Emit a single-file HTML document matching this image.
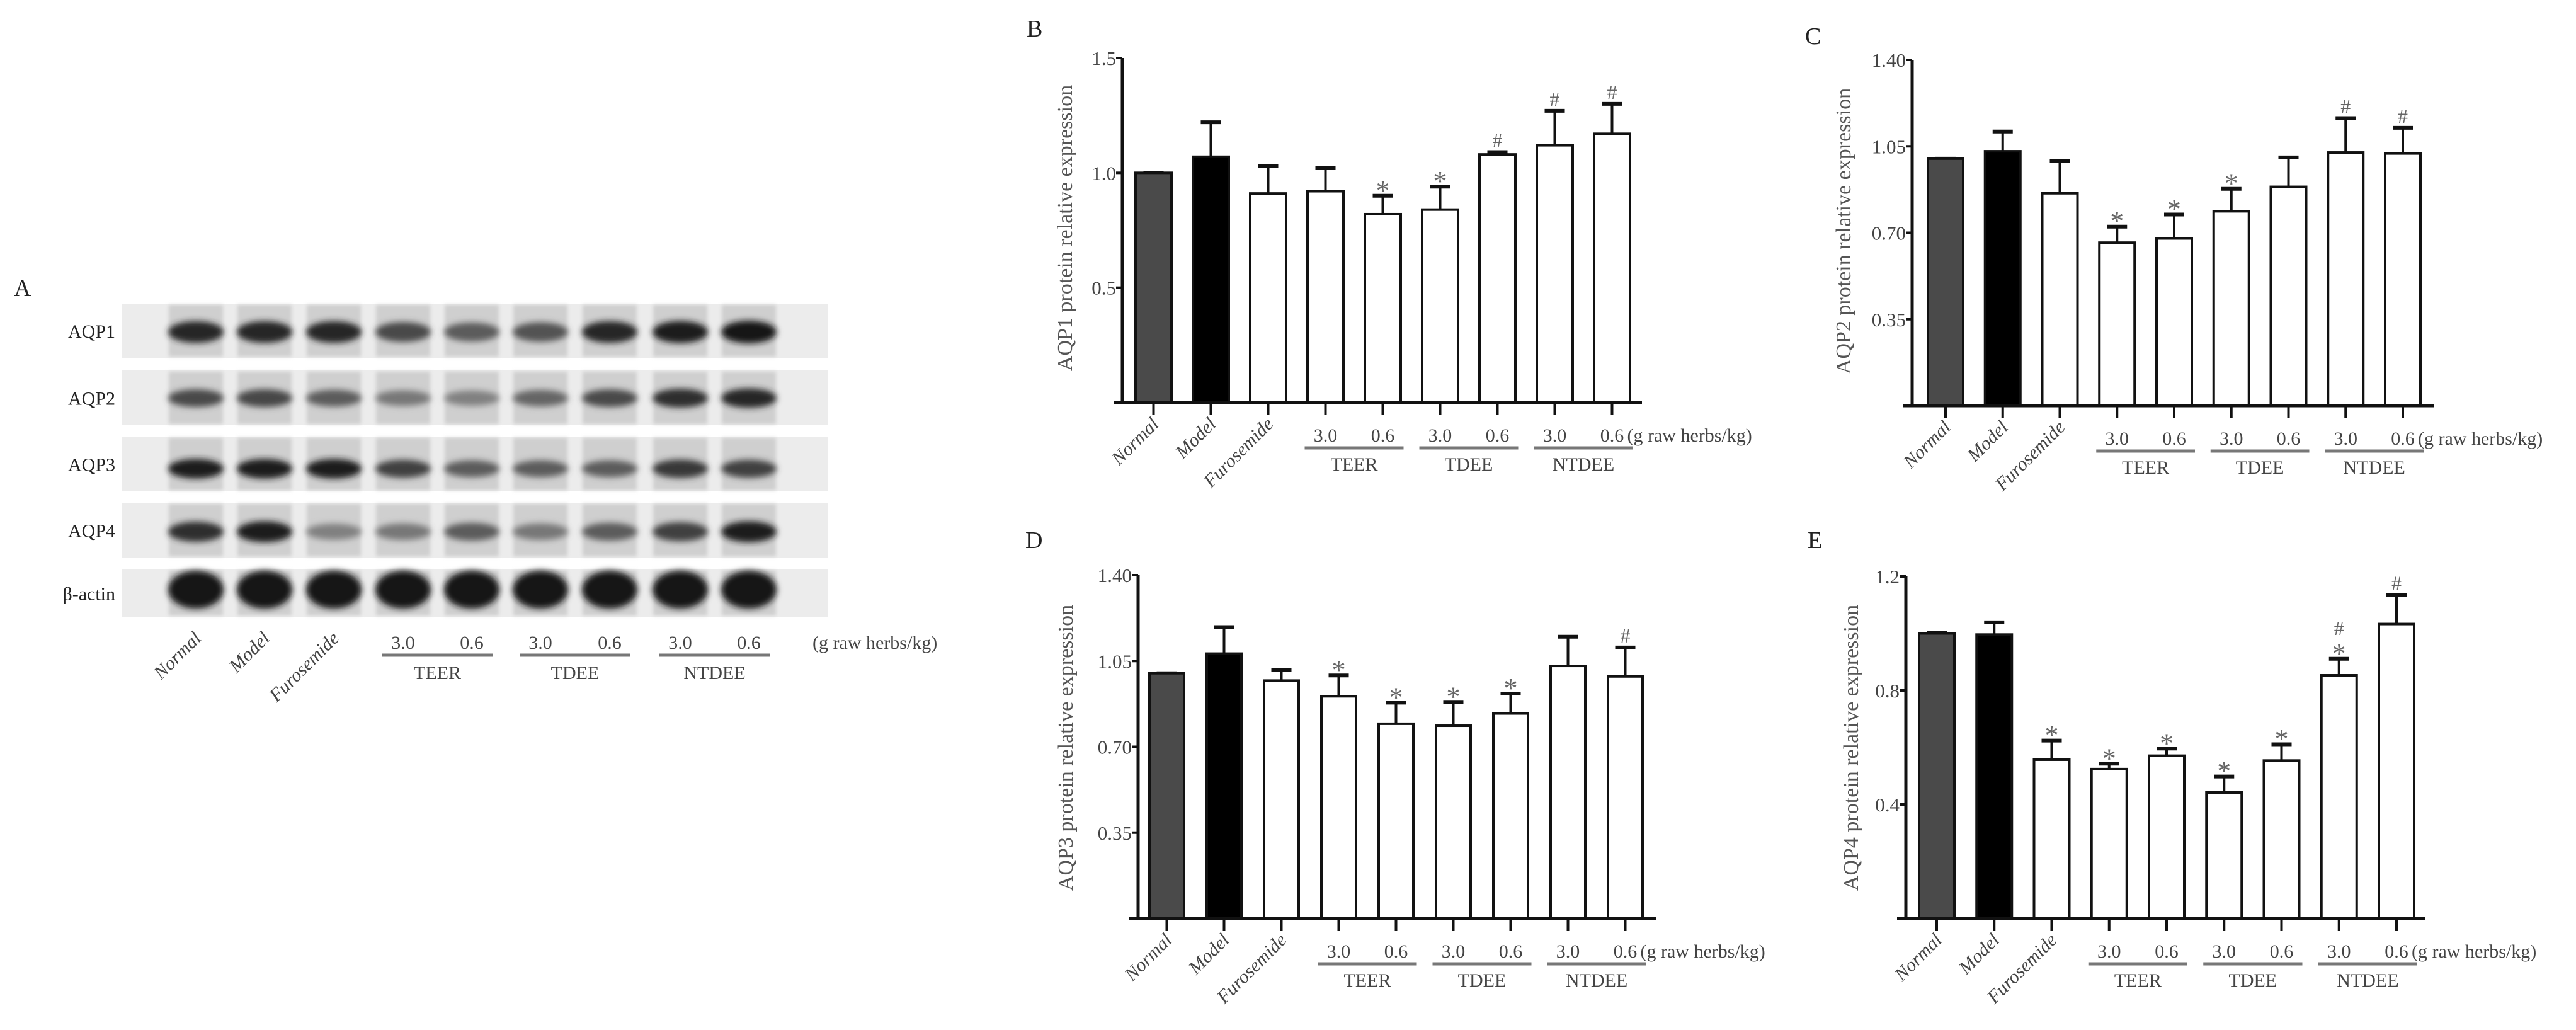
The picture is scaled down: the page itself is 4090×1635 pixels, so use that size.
<!DOCTYPE html>
<html><head><meta charset="utf-8"><style>
html,body{margin:0;padding:0;background:#fff;}
svg{display:block;font-family:"Liberation Serif",serif;}
</style></head><body>
<svg id="fig" width="4090" height="1635" viewBox="0 0 4090 1635">
<defs>
<filter id="blur4" x="-20%" y="-50%" width="140%" height="200%"><feGaussianBlur stdDeviation="5"/></filter>
<filter id="blur2" x="-20%" y="-50%" width="140%" height="200%"><feGaussianBlur stdDeviation="3"/></filter>
</defs>
<g id="blot"></g>
<g id="charts"></g>
</svg>
<script>
// ---- data ----
const categories = ["Normal","Model","Furosemide","3.0","0.6","3.0","0.6","3.0","0.6"];
const groupLabels = ["TEER","TDEE","NTDEE"];
const aqp1Values = [1.00,1.07,0.91,0.92,0.82,0.84,1.08,1.12,1.17];
const aqp1Errors = [1.00,1.22,1.03,1.02,0.90,0.94,1.09,1.27,1.30];
const aqp1Marks  = ["","","","","*","*","#","#","#"];
const aqp1Ticks  = [0.5,1.0,1.5];
const aqp1TickLabels = ["0.5","1.0","1.5"];
const aqp2Values = [1.00,1.03,0.86,0.66,0.677,0.787,0.886,1.025,1.021];
const aqp2Errors = [1.00,1.11,0.99,0.725,0.774,0.878,1.005,1.164,1.125];
const aqp2Marks  = ["","","","*","*","*","","#","#"];
const aqp2Ticks  = [0.35,0.70,1.05,1.40];
const aqp2TickLabels = ["0.35","0.70","1.05","1.40"];
const aqp3Values = [1.00,1.08,0.97,0.906,0.794,0.786,0.836,1.03,0.987];
const aqp3Errors = [1.00,1.188,1.014,0.991,0.880,0.883,0.917,1.149,1.105];
const aqp3Marks  = ["","","","*","*","*","*","","#"];
const aqp3Ticks  = [0.35,0.70,1.05,1.40];
const aqp3TickLabels = ["0.35","0.70","1.05","1.40"];
const aqp4Values = [1.00,0.996,0.557,0.524,0.571,0.442,0.554,0.853,1.033];
const aqp4Errors = [1.003,1.039,0.624,0.543,0.596,0.498,0.611,0.911,1.135];
const aqp4Marks  = ["","","*","*","*","*","*","#*","#"];
const aqp4Ticks  = [0.4,0.8,1.2];
const aqp4TickLabels = ["0.4","0.8","1.2"];
const bandIntensity = {
  AQP1:[0.9,0.9,0.9,0.7,0.6,0.65,0.9,0.95,1.0],
  AQP2:[0.7,0.72,0.6,0.45,0.4,0.55,0.7,0.85,0.9],
  AQP3:[0.95,0.95,0.95,0.75,0.6,0.6,0.6,0.8,0.75],
  AQP4:[0.85,0.95,0.4,0.45,0.6,0.45,0.6,0.75,0.95],
  "β-actin":[1,1,1,1,1,1,1,1,1]
};

const NS="http://www.w3.org/2000/svg";
function mk(parent,tag,attrs,text){
  const e=document.createElementNS(NS,tag);
  for(const k in attrs) e.setAttribute(k,attrs[k]);
  if(text!==undefined) e.textContent=text;
  parent.appendChild(e);return e;
}

// ---- blot (panel A) ----
(function(){
  const g=document.getElementById('blot');
  const a=mk(g,'text',{x:22,y:470,'font-size':38,fill:'#222'},'A');
  
  
  const rows=[["AQP1",482,568,527,18],["AQP2",588,675,632,16],["AQP3",693,780,744,16],["AQP4",798,885,844,17],["β-actin",904,979,936,30]];
  const lanes=[311,420,530,640,749,858,968,1080,1189];
  rows.forEach(r=>{
    const [name,y0,y1,by,bh]=r;
    const rg=mk(g,'g',{});
    
    
    mk(rg,'rect',{x:193,y:y0,width:1121,height:y1-y0,fill:'#ececec'});
    lanes.forEach((lx,i)=>{
      mk(rg,'rect',{x:lx-43,y:y0+2,width:86,height:y1-y0-4,fill:'#cfcfcf',filter:'url(#blur2)'});
      const v=bandIntensity[name][i];
      const c=Math.round(200-180*v);
      mk(rg,'ellipse',{cx:lx,cy:by,rx:44,ry:bh*(0.6+0.4*v),fill:`rgb(${c},${c},${c})`,filter:'url(#blur4)'});
    });
    const t=mk(rg,'text',{x:183,y:(y0+y1)/2+11,'font-size':30,'text-anchor':'end',fill:'#222'},name);
    
    
  });
  drawXLabels(g,lanes,979,{subY:1030,lineY:1040,grpY:1078,unitX:1290});
})();

function drawXLabels(g,xs,base,o){
  for(let i=0;i<3;i++){
    const t=mk(g,'text',{x:xs[i]+10,y:base+36,'font-size':30,'font-style':'italic','text-anchor':'end',fill:'#444',transform:`rotate(-45 ${xs[i]+10} ${base+36})`},categories[i]);
    
    
  }
  for(let k=0;k<3;k++){
    const xa=xs[3+2*k], xb=xs[4+2*k];
    const t1=mk(g,'text',{x:xa,y:o.subY,'font-size':30,'text-anchor':'middle',fill:'#444'},categories[3+2*k]);
    
    
    const t2=mk(g,'text',{x:xb,y:o.subY,'font-size':30,'text-anchor':'middle',fill:'#444'},categories[4+2*k]);
    
    
    const ln=mk(g,'line',{x1:xa-33,x2:xb+33,y1:o.lineY,y2:o.lineY,stroke:'#777','stroke-width':5});
    
    
    const gt=mk(g,'text',{x:(xa+xb)/2,y:o.grpY,'font-size':30,'text-anchor':'middle',fill:'#444'},groupLabels[k]);
    
    
  }
  const u=mk(g,'text',{x:o.unitX,y:o.subY,'font-size':30,fill:'#444'},'(g raw herbs/kg)');
  
  
}

// ---- bar charts ----
const panels=[
 {L:'B',name:'AQP1',vals:aqp1Values,errs:aqp1Errors,marks:aqp1Marks,ticks:aqp1Ticks,tl:aqp1TickLabels,ymax:1.5,ax:1782,top:92,base:639,x0:1801,step:91,bw:61,end:2607,lx:1630,ly:58,tx:1691,ty:362},
 {L:'C',name:'AQP2',vals:aqp2Values,errs:aqp2Errors,marks:aqp2Marks,ticks:aqp2Ticks,tl:aqp2TickLabels,ymax:1.4,ax:3036,top:95,base:644,x0:3059,step:90.75,bw:60,end:3864,lx:2866,ly:70,tx:2927,ty:367},
 {L:'D',name:'AQP3',vals:aqp3Values,errs:aqp3Errors,marks:aqp3Marks,ticks:aqp3Ticks,tl:aqp3TickLabels,ymax:1.4,ax:1807,top:913,base:1458,x0:1823,step:91,bw:59,end:2629,lx:1628,ly:870,tx:1692,ty:1187},
 {L:'E',name:'AQP4',vals:aqp4Values,errs:aqp4Errors,marks:aqp4Marks,ticks:aqp4Ticks,tl:aqp4TickLabels,ymax:1.2,ax:3026,top:915,base:1458,x0:3045,step:91.25,bw:60,end:3851,lx:2870,ly:870,tx:2939,ty:1187}
];
const root=document.getElementById('charts');
panels.forEach(p=>{
  const g=mk(root,'g',{});
  
  
  const y=v=>p.base-(v/p.ymax)*(p.base-p.top);
  const xc=i=>p.x0+p.bw/2+i*p.step;
  const lt=mk(g,'text',{x:p.lx,y:p.ly,'font-size':38,fill:'#222'},p.L);
  
  
  p.vals.forEach((v,i)=>{
    const fill=i===0?'#4a4a4a':(i===1?'#000':'#fff');
    const e=p.errs[i];
    const eb=mk(g,'line',{x1:xc(i),x2:xc(i),y1:y(v),y2:y(e),stroke:'#111','stroke-width':4});
    
    
    const cap=mk(g,'line',{x1:xc(i)-16,x2:xc(i)+16,y1:y(e),y2:y(e),stroke:'#111','stroke-width':6});
    
    
    const b=mk(g,'rect',{x:xc(i)-p.bw/2+2,y:y(v),width:p.bw-4,height:p.base-y(v),fill:fill,stroke:'#111','stroke-width':4});
    
    
    const m=p.marks[i];
    if(m){
      let yy=y(e)-8;
      for(let k=m.length-1;k>=0;k--){
        const ch=m[k];
        const t=mk(g,'text',{x:xc(i),y:ch==='*'?yy+14:yy,'font-size':ch==='*'?44:32,'text-anchor':'middle',fill:'#666'},ch);
        
        
        yy-=30;
      }
    }
    const tk=mk(g,'line',{x1:xc(i),x2:xc(i),y1:p.base,y2:p.base+20,stroke:'#111','stroke-width':4});
    
    
  });
  const ya=mk(g,'line',{x1:p.ax,x2:p.ax,y1:p.top,y2:p.base+2,stroke:'#111','stroke-width':5});
  
  
  const xa=mk(g,'line',{x1:p.ax-14,x2:p.end,y1:p.base,y2:p.base,stroke:'#111','stroke-width':5});
  
  
  p.ticks.forEach((t,k)=>{
    const tl=mk(g,'line',{x1:p.ax-10,x2:p.ax,y1:y(t),y2:y(t),stroke:'#111','stroke-width':4});
    
    
    const tx=mk(g,'text',{x:p.ax-10,y:y(t)+11,'font-size':31,'text-anchor':'end',fill:'#444'},p.tl[k]);
    
    
  });
  const tt=mk(g,'text',{x:p.tx,y:p.ty,'font-size':34,'text-anchor':'middle',fill:'#555',transform:`rotate(-90 ${p.tx} ${p.ty})`,dy:11},p.name+' protein relative expression');
  
  
  const xs=p.vals.map((_,i)=>xc(i));
  drawXLabels(g,xs,p.base,{subY:p.base+62,lineY:p.base+72,grpY:p.base+108,unitX:xc(8)+24});
});
</script>
</body></html>
